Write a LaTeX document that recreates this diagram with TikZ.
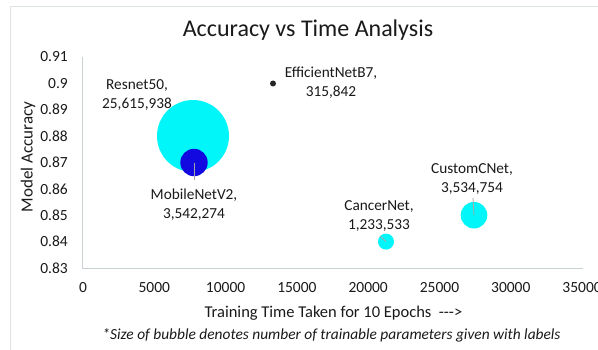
\documentclass[tikz,border=0pt]{standalone}
\usepackage{fontspec}
\setmainfont{Carlito}
\definecolor{txt}{HTML}{1A1A1A}
\definecolor{axisc}{HTML}{C9D1D5}
\definecolor{framec}{HTML}{DDE3E5}
\definecolor{bubcyan}{HTML}{00F6F8}
\definecolor{bubblue}{HTML}{1208E0}
\definecolor{leader}{HTML}{A6A6A6}
\begin{document}
\begin{tikzpicture}[x=1pt,y=1pt,
  lbl/.style={font=\fontsize{15.3}{19}\selectfont, text=txt, align=center, inner sep=0pt},
  ytick/.style={font=\fontsize{15.5}{18}\selectfont, text=txt, anchor=east, inner sep=0pt},
  xtick/.style={font=\fontsize{15.5}{18}\selectfont, text=txt, inner sep=0pt},
  bub/.style={circle, inner sep=0pt, minimum size=#1},
  leadline/.style={draw=leader, line width=0.8pt}]
\useasboundingbox (0,0) rectangle (598,349);
\fill[white] (0,0) rectangle (598,349);
% chart frame
\draw[framec, line width=0.8pt] (10,-2) -- (10,343) -- (600,343);
% title
\node[font=\fontsize{24}{28}\selectfont, text=txt, anchor=base, inner sep=0pt] (title) at (308,312) {Accuracy vs Time Analysis};
% axes
\coordinate (o) at (82.5,81);
\coordinate (ytop) at (82.5,292);
\coordinate (xend) at (583,81);
\draw[axisc, line width=1pt] (ytop) -- (o) -- (xend);
% y ticks
\foreach \v [count=\i from 0] in {0.83,0.84,0.85,0.86,0.87,0.88,0.89,0.9,0.91}
  \node[ytick] (yt\i) at (68,81+\i*26.375) {\v};
% x ticks
\foreach \v [count=\i from 0] in {0,5000,10000,15000,20000,25000,30000,35000}
  \node[xtick] (xt\i) at (83+\i*71.3,61) {\v};
% axis titles
\node[font=\fontsize{16.5}{19}\selectfont, text=txt, inner sep=0pt] (xtitle) at (333.5,36) {Training Time Taken for 10 Epochs\ \ -\kern0pt-\kern0pt-\kern0pt>};
\node[font=\fontsize{17}{19}\selectfont, text=txt, inner sep=0pt, rotate=90] (ytitle) at (28,192) {Model Accuracy};
\node[font=\fontsize{15.4}{17}\selectfont\itshape, text=txt, inner sep=0pt] (note) at (331.5,14) {*Size of bubble denotes number of trainable parameters given with labels};
% bubbles
\node[bub=72pt, fill=bubcyan] (resnet) at (193,213) {};
\node[bub=27.4pt, fill=bubblue] (mobile) at (194,186.5) {};
\node[bub=6pt, fill=black!85] (effnet) at (273,265.5) {};
\node[bub=16pt, fill=bubcyan] (cancer) at (386,107.4) {};
\node[bub=26.6pt, fill=bubcyan] (custom) at (474,133.8) {};
% labels
\node[lbl] (resnetlbl) at (137,254) {Resnet50,\\25,615,938};
\node[lbl] (effnetlbl) at (331,266.5) {EfficientNetB7,\\315,842};
\node[lbl] (mobilelbl) at (194,144) {MobileNetV2,\\3,542,274};
\node[lbl] (cancerlbl) at (379,132.5) {CancerNet,\\1,233,533};
\node[lbl] (customlbl) at (472,170) {CustomCNet,\\3,534,754};
% leader lines
\coordinate (mobend) at (194,169);
\coordinate (custend) at (473,151);
\coordinate (cancend) at (380,113);
\draw[leadline] (mobile.center) -- (mobend);
\draw[leadline] (custom.center) -- (custend);
\draw[leadline] (cancer.center) -- (cancend);
\end{tikzpicture}
\end{document}
